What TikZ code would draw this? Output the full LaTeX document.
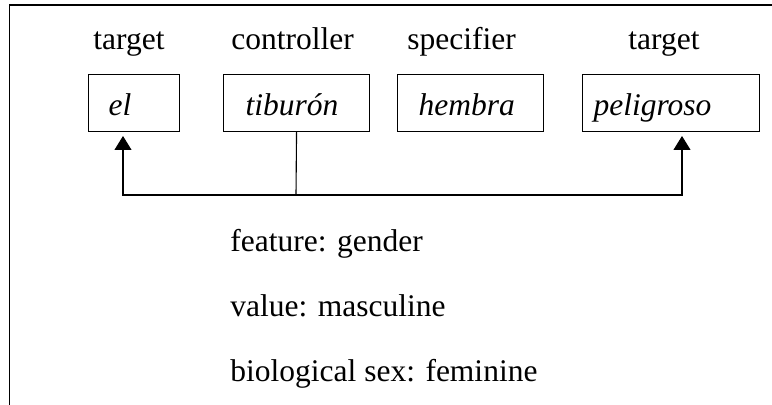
\documentclass[tikz,border=0pt]{standalone}
\usepackage{fontspec}
\setmainfont{Liberation Serif}
\usetikzlibrary{arrows.meta,positioning}

\begin{document}
\begin{tikzpicture}[x=0.5pt,y=-0.5pt,
	font=\fontsize{15.75pt}{19pt}\selectfont,
	word/.style={draw, line width=0.55pt, anchor=north west, inner ysep=0pt,
		text height=20.5pt, text depth=8pt, align=left, font=\fontsize{15.75pt}{19pt}\selectfont\itshape},
	role/.style={anchor=base west, inner sep=0pt},
	agr/.style={-{Triangle[width=8.5pt,length=7pt]}, line width=0.55pt}]
	\useasboundingbox (0,0) rectangle (772,405);
	% frame
	\draw[line width=0.9pt] (9.5,405) -- (9.5,5) -- (772,5);
	
	\node[role] (r1) at (93,50) {target};
	\node[role] (r2) at (231,50) {controller};
	\node[role] (r3) at (407,50) {specifier};
	\node[role] (r4) at (628,50) {target};
	
	\node[word, inner xsep=10pt, text width=25.5pt] (el) at (88,74) {el};
	\node[word, inner xsep=11pt, text width=51pt] (tiburon) at (223,74) {tiburón};
	\node[word, inner xsep=10.5pt, text width=52pt] (hembra) at (397,74) {hembra};
	\node[word, inner xsep=5.5pt, text width=77.5pt] (peligroso) at (582,74) {peligroso};
	
	\coordinate (fork) at (296,195);
	\coordinate (elin) at (123,136);
	\coordinate (pelin) at (682,136);
	\draw[line width=0.55pt] (tiburon.south) -- (fork);
	\draw[agr] (fork) -| (elin);
	\draw[agr] (fork) -| (pelin);
	
	\node[role] (feat) at (230,252) {feature: gender};
	\node[role] (val) at (230,317) {value: masculine};
	\node[role] (sex) at (230,382) {biological sex: feminine};
\end{tikzpicture}
\end{document}
